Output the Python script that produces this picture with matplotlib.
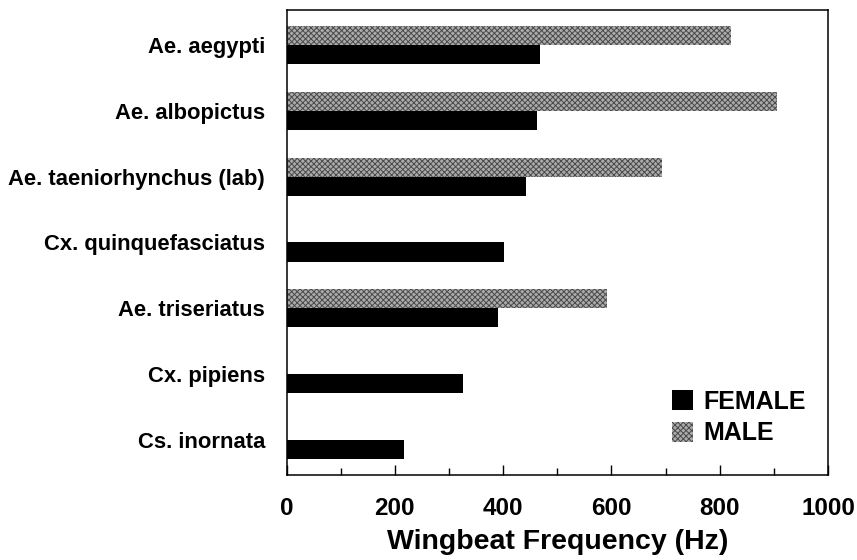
import numpy as np
import matplotlib
matplotlib.use("Agg")
import matplotlib.pyplot as plt
from matplotlib.patches import Patch
from matplotlib.ticker import MultipleLocator

species = ["Ae. aegypti", "Ae. albopictus", "Ae. taeniorhynchus (lab)",
           "Cx. quinquefasciatus", "Ae. triseriatus", "Cx. pipiens", "Cs. inornata"]
female = [469, 463, 442, 402, 391, 326, 217]
male = [821, 905, 693, np.nan, 591, np.nan, np.nan]
xticks = [0, 200, 400, 600, 800, 1000]

plt.rcParams['font.family'] = ['Liberation Sans', 'DejaVu Sans']
plt.rcParams['font.weight'] = 'bold'
plt.rcParams['hatch.linewidth'] = 0.7

MALE_FC = '#ababab'
MALE_HC = '#4a4a4a'

fig = plt.figure(figsize=(8.57, 5.60), dpi=100)
ax = fig.add_axes([286.5/857, 1-475/560, (828-286.5)/857, (475-10)/560])

h = 0.29
y = np.arange(len(species))
male_arr = np.array(male, dtype=float)
mask = ~np.isnan(male_arr)
ax.barh(y[mask] - h, male_arr[mask], height=h, align='edge',
        facecolor=MALE_FC, edgecolor=MALE_HC, hatch='xxxxxx', linewidth=0)
ax.barh(y, female, height=h, align='edge', color='black', linewidth=0)

ax.set_ylim(len(species) - 1 + 0.53, -0.53)
ax.set_xlim(0, 1000)
ax.set_yticks(y)
ax.set_yticklabels(species, fontsize=15.8, fontweight='bold')
ax.tick_params(axis='y', length=0, pad=15.5)
ax.set_xticks(xticks)
ax.set_xticklabels([str(v) for v in xticks], fontsize=17.5, fontweight='bold')
ax.xaxis.set_minor_locator(MultipleLocator(100))
ax.tick_params(axis='x', which='major', direction='in', length=7.5, width=1, pad=15.5)
ax.tick_params(axis='x', which='minor', direction='in', length=5, width=1)
ax.set_xlabel('Wingbeat Frequency (Hz)', fontsize=20.5, fontweight='bold', labelpad=7)
for s in ax.spines.values():
    s.set_linewidth(1.1)

handles = [Patch(facecolor='black', edgecolor='none'),
           Patch(facecolor=MALE_FC, edgecolor=MALE_HC, hatch='xxxxxx', linewidth=0)]
leg = ax.legend(handles, ['FEMALE', 'MALE'], loc='upper left',
                bbox_to_anchor=(672/857, 1-390/560), bbox_transform=fig.transFigure,
                frameon=False, prop={'size': 18, 'weight': 'bold'},
                handlelength=0.85, handleheight=0.85, handletextpad=0.4,
                labelspacing=0.3, borderpad=0, borderaxespad=0)

fig.savefig('out.png', dpi=100)
